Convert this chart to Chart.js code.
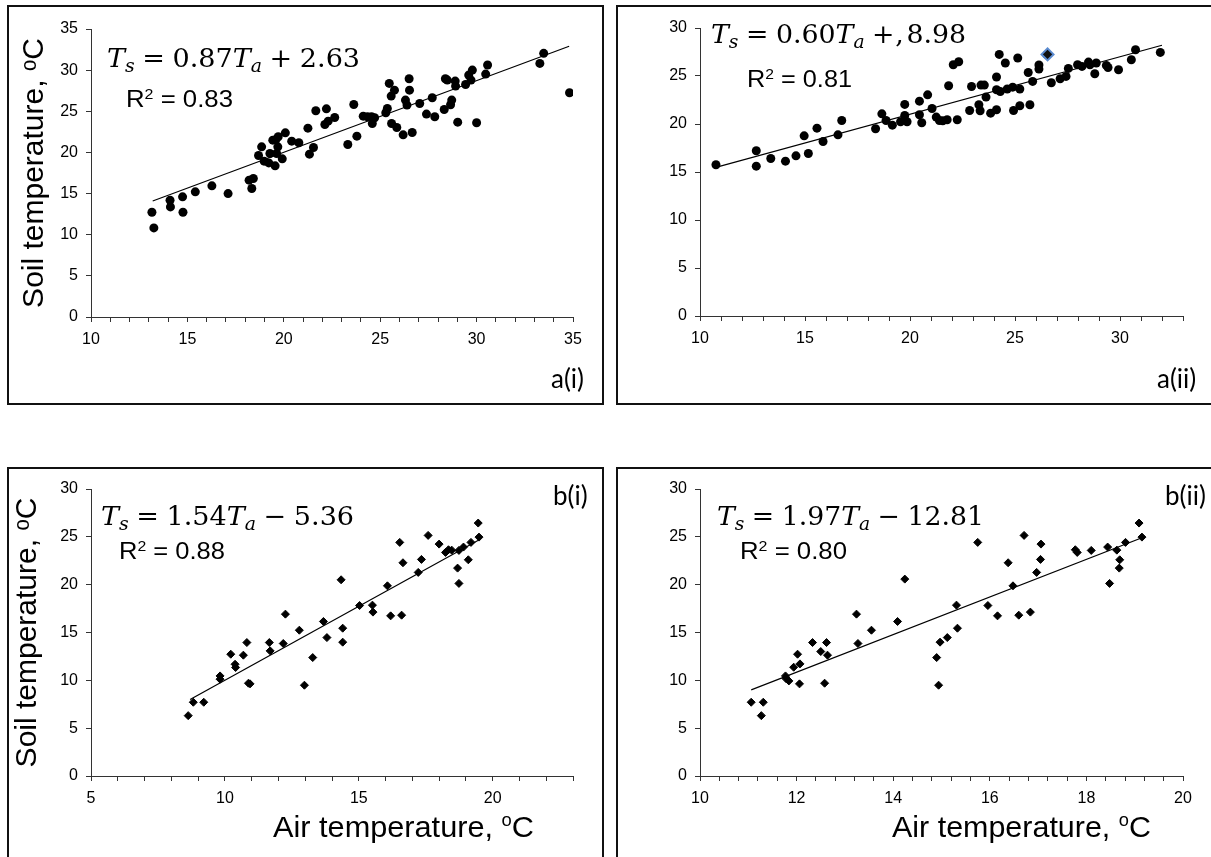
<!DOCTYPE html>
<html>
<head>
<meta charset="utf-8">
<title>Soil vs air temperature</title>
<script src="https://cdn.jsdelivr.net/npm/chart.js@4.4.0/dist/chart.umd.min.js"></script>
<style>
  html, body { margin: 0; padding: 0; background: #fff; width: 1211px; height: 857px; overflow: hidden; position: relative; }
  .frame { position: absolute; border: 2px solid #111; box-sizing: border-box; pointer-events: none; }
  canvas { position: absolute; }
  .txt { position: absolute; line-height: 1; white-space: nowrap; transform-origin: 0 0; color: #000; }
  .eq { font-family: 'DejaVu Serif', 'Liberation Serif', serif; font-size: 26px; }
  .eq sub { font-size: 0.7em; vertical-align: -0.3em; line-height: 0; }
  .eq .op { margin: 0 0.28em; }
  .eq .cm { margin: 0 0.1em 0 -0.25em; }
  .r2 { font-family: 'Liberation Sans', Arial, sans-serif; font-size: 23px; }
  .r2 sup { font-size: 0.62em; vertical-align: 0.55em; line-height: 0; }
  .tag { font-family: Lato, 'Open Sans', sans-serif; font-size: 26px; }
  .xt { font-family: 'Liberation Sans', Arial, sans-serif; font-size: 30px; }
  .xt sup { font-size: 0.6em; vertical-align: 0.62em; line-height: 0; }
</style>
</head>
<body>

<canvas id="chartA1" width="596" height="399" style="left:7px;top:5px"></canvas>
<canvas id="chartA2" width="595" height="399" style="left:616px;top:5px"></canvas>
<canvas id="chartB1" width="596" height="390" style="left:7px;top:467px"></canvas>
<canvas id="chartB2" width="595" height="390" style="left:616px;top:467px"></canvas>

<div class="frame" style="left:7px;top:5px;width:597px;height:400px"></div>
<div class="frame" style="left:616px;top:5px;width:600px;height:400px"></div>
<div class="frame" style="left:7px;top:467px;width:597px;height:400px"></div>
<div class="frame" style="left:616px;top:467px;width:600px;height:400px"></div>

<!-- regression equations -->
<div class="txt eq" data-w="253" style="left:107px;top:45px"><i>T</i><sub><i>s</i></sub><span class="op">=</span>0.87<i>T</i><sub><i>a</i></sub><span class="op">+</span>2.63</div>
<div class="txt eq" data-w="255" style="left:711px;top:21px"><i>T</i><sub><i>s</i></sub><span class="op">=</span>0.60<i>T</i><sub><i>a</i></sub><span class="op">+</span><span class="cm">,</span>8.98</div>
<div class="txt eq" data-w="253" style="left:101px;top:503px"><i>T</i><sub><i>s</i></sub><span class="op">=</span>1.54<i>T</i><sub><i>a</i></sub><span class="op">&minus;</span>5.36</div>
<div class="txt eq" data-w="267" style="left:717px;top:503px"><i>T</i><sub><i>s</i></sub><span class="op">=</span>1.97<i>T</i><sub><i>a</i></sub><span class="op">&minus;</span>12.81</div>

<div class="txt r2" data-w="107" style="left:126px;top:88px">R<sup>2</sup> = 0.83</div>
<div class="txt r2" data-w="105" style="left:747px;top:68px">R<sup>2</sup> = 0.81</div>
<div class="txt r2" data-w="106" style="left:119px;top:540px">R<sup>2</sup> = 0.88</div>
<div class="txt r2" data-w="107" style="left:740px;top:540px">R<sup>2</sup> = 0.80</div>

<!-- panel tags -->
<div class="txt tag" style="left:551px;top:365px">a(i)</div>
<div class="txt tag" style="left:1157px;top:365px">a(ii)</div>
<div class="txt tag" style="left:553px;top:482px">b(i)</div>
<div class="txt tag" style="left:1165px;top:482px">b(ii)</div>

<!-- x axis titles (bottom row only) -->
<div class="txt xt" data-w="261" style="left:273px;top:812px">Air temperature, <sup>o</sup>C</div>
<div class="txt xt" data-w="259" style="left:892px;top:812px">Air temperature, <sup>o</sup>C</div>

<script>
// a(i): all days, air vs soil temperature (deg C)
const a1Air  = [13.16, 13.26, 14.10, 14.12, 14.75, 14.77, 15.41, 16.27, 17.11, 18.20,
                18.42, 18.34, 18.69, 18.85, 18.98, 19.22, 19.28, 19.43, 19.55, 19.59,
                19.69, 19.71, 19.63, 19.92, 20.08, 20.41, 20.78, 21.25, 21.33, 21.54,
                21.66, 22.21, 22.13, 22.30, 22.64, 23.32, 23.63, 23.79, 24.12, 24.34,
                24.55, 24.59, 24.71, 25.29, 25.37, 25.47, 25.57, 25.59, 25.74, 25.86,
                26.19, 26.31, 26.39, 26.50, 26.52, 26.66, 27.05, 27.40, 27.70, 27.83,
                28.32, 28.38, 28.48, 28.65, 28.71, 28.89, 28.91, 29.02, 29.43, 29.59,
                29.71, 29.78, 30.00, 30.47, 30.57, 33.28, 33.48, 34.82];
const a1Soil = [12.73, 10.83, 14.19, 13.38, 14.60, 12.73, 15.21, 15.94, 15.00, 16.63,
                16.83, 15.61, 19.63, 20.68, 18.94, 18.73, 19.87, 21.49, 18.37, 21.57,
                20.68, 21.90, 19.87, 19.22, 22.38, 21.37, 21.17, 22.95, 19.79, 20.60,
                25.06, 25.30, 23.40, 23.80, 24.25, 20.97, 25.83, 21.98, 24.41, 24.33,
                24.33, 23.52, 24.21, 24.82, 25.34, 28.39, 26.85, 23.52, 27.57, 23.03,
                22.14, 26.36, 25.75, 28.95, 27.57, 22.42, 25.95, 24.66, 26.64, 24.33,
                25.22, 28.95, 28.79, 25.79, 26.36, 28.67, 28.06, 23.68, 28.26, 29.40,
                28.79, 30.01, 23.60, 29.52, 30.62, 30.82, 32.04, 27.25];
const a1TrendAir  = [13.2, 34.8];
const a1TrendSoil = [14.1, 32.9];

// a(ii)
const a2Air  = [10.76, 12.68, 12.68, 13.37, 14.07, 14.57, 14.96, 15.16, 15.57, 15.86,
                16.57, 16.75, 18.36, 18.66, 18.86, 19.16, 19.55, 19.75, 19.75, 19.86,
                20.45, 20.45, 20.56, 20.84, 21.05, 21.25, 21.40, 21.56, 21.77, 21.84,
                22.06, 22.32, 22.25, 22.84, 22.93, 23.28, 23.34, 23.38, 23.54, 23.62,
                23.84, 24.12, 24.12, 24.12, 24.25, 24.30, 24.54, 24.63, 24.89, 24.93,
                25.13, 25.23, 25.23, 25.63, 25.71, 25.84, 26.14, 26.14, 26.52, 26.73,
                27.15, 27.43, 27.54, 27.98, 28.19, 28.50, 28.57, 28.80, 28.87, 29.35,
                29.43, 29.93, 30.54, 30.74, 31.92];
const a2Soil = [15.75, 17.21, 15.61, 16.41, 16.13, 16.68, 18.77, 16.93, 19.57, 18.18,
                18.87, 20.37, 19.50, 21.06, 20.37, 19.88, 20.23, 22.04, 20.89, 20.23,
                22.38, 20.96, 20.13, 23.04, 21.62, 20.72, 20.37, 20.33, 20.44, 23.98,
                26.17, 26.49, 20.44, 21.41, 23.91, 22.00, 21.38, 24.05, 24.05, 22.80,
                21.13, 21.48, 24.89, 23.57, 27.25, 23.39, 26.35, 23.64, 23.84, 21.41,
                26.87, 21.90, 23.64, 25.37, 22.00, 24.44, 25.72, 26.14, 27.22, 24.30,
                24.71, 24.96, 25.79, 26.17, 26.00, 26.45, 26.17, 25.23, 26.35, 26.10,
                25.89, 25.65, 26.69, 27.74, 27.46];
const a2MarkAir  = [26.55];   // the selected (blue) point
const a2MarkSoil = [27.25];
const a2TrendAir  = [10.8, 32.0];
const a2TrendSoil = [15.5, 28.2];

// b(i)
const b1Air  = [8.63, 8.82, 9.21, 9.82, 9.82, 10.22, 10.38, 10.40, 10.69, 10.82,
                10.88, 10.94, 11.66, 11.69, 12.18, 12.26, 12.78, 12.97, 13.28, 13.68,
                13.81, 14.34, 14.40, 14.40, 15.03, 15.51, 15.53, 16.07, 16.19, 16.53,
                16.60, 16.65, 17.22, 17.34, 17.59, 18.00, 18.24, 18.35, 18.47, 18.69,
                18.74, 18.74, 18.91, 19.09, 19.19, 19.46, 19.49];
const b1Soil = [6.31, 7.71, 7.71, 10.12, 10.46, 12.73, 11.68, 11.34, 12.63, 13.95,
                9.70, 9.63, 13.95, 13.08, 13.85, 16.92, 15.24, 9.49, 12.38, 16.15,
                14.47, 20.51, 15.45, 13.99, 17.82, 17.86, 17.13, 19.88, 16.74, 24.42,
                16.81, 22.29, 21.28, 22.64, 25.15, 24.24, 23.37, 23.65, 23.61, 21.73,
                20.13, 23.58, 23.93, 22.60, 24.42, 26.44, 24.97];
const b1TrendAir  = [8.7, 19.5];
const b1TrendSoil = [8.0, 24.7];

// b(ii)
const b2Air  = [11.06, 11.31, 11.27, 11.77, 11.78, 11.84, 11.94, 12.02, 12.07, 12.06,
                12.33, 12.50, 12.58, 12.62, 12.64, 13.24, 13.27, 13.55, 14.09, 14.24,
                14.90, 14.94, 14.97, 15.12, 15.31, 15.33, 15.75, 15.96, 16.16, 16.38,
                16.48, 16.60, 16.71, 16.84, 16.97, 17.05, 17.06, 17.77, 17.81, 18.10,
                18.44, 18.48, 18.63, 18.68, 18.69, 18.81, 19.09, 19.15];
const b2Soil = [7.71, 7.71, 6.31, 10.46, 10.18, 9.94, 11.37, 12.73, 11.72, 9.63,
                13.95, 13.01, 9.70, 13.95, 12.63, 16.92, 13.85, 15.24, 16.15, 20.58,
                12.38, 9.49, 13.99, 14.47, 17.86, 15.45, 24.42, 17.82, 16.74, 22.29,
                19.88, 16.81, 25.15, 17.13, 21.28, 22.64, 24.24, 23.65, 23.37, 23.58,
                23.93, 20.13, 23.61, 21.73, 22.60, 24.42, 26.44, 24.97];
const b2TrendAir  = [11.06, 19.15];
const b2TrendSoil = [9.0, 24.9];

const SOIL_TITLE = 'Soil temperature, \u1D52C';

Chart.defaults.font.family = "'Liberation Sans', Arial, 'DejaVu Sans', sans-serif";
Chart.defaults.color = '#000';

const Panels = {
  init() {
    // area: chart area offsets inside each canvas (left = y axis width, bottom = x axis height)
    this.build('chartA1', {
      sets: [this.points(a1Air, a1Soil, 'circle'), this.trend(a1TrendAir, a1TrendSoil)],
      x: { min: 10, max: 35, step: 1, major: 5 },
      y: { min: 0, max: 35 },
      area: { l: 84, t: 24, r: 30, b: 87 },
      yTitle: 13
    });
    this.build('chartA2', {
      sets: [this.marked(a2MarkAir, a2MarkSoil), this.points(a2Air, a2Soil, 'circle'), this.trend(a2TrendAir, a2TrendSoil)],
      x: { min: 10, max: 33, step: 1, major: 5 },
      y: { min: 0, max: 30 },
      area: { l: 84, t: 23, r: 28, b: 88 },
      yTitle: null
    });
    this.build('chartB1', {
      sets: [this.points(b1Air, b1Soil, 'rectRot'), this.trend(b1TrendAir, b1TrendSoil)],
      x: { min: 5, max: 23, step: 1, major: 5 },
      y: { min: 0, max: 30 },
      area: { l: 84, t: 22, r: 30, b: 81 },
      yTitle: 6
    });
    this.build('chartB2', {
      sets: [this.points(b2Air, b2Soil, 'rectRot'), this.trend(b2TrendAir, b2TrendSoil)],
      x: { min: 10, max: 20, step: 0.4, major: 2 },
      y: { min: 0, max: 30 },
      area: { l: 84, t: 22, r: 28, b: 81 },
      yTitle: null
    });
    document.fonts.ready.then(() => this.fitText());
  },

  pairs(xs, ys) {
    return xs.map((x, i) => ({ x, y: ys[i] }));
  },

  points(xs, ys, style) {
    const round = style === 'circle';
    return {
      data: this.pairs(xs, ys),
      showLine: false,
      pointStyle: style,
      pointRadius: round ? 4.5 : 4,
      pointBackgroundColor: '#000',
      pointBorderColor: '#000',
      pointBorderWidth: round ? 0 : 1
    };
  },

  marked(xs, ys) {
    return {
      data: this.pairs(xs, ys),
      showLine: false,
      pointStyle: 'rectRot',
      pointRadius: 6,
      pointBackgroundColor: '#111',
      pointBorderColor: '#5b8bd0',
      pointBorderWidth: 2
    };
  },

  trend(xs, ys) {
    return {
      data: this.pairs(xs, ys),
      showLine: true,
      pointRadius: 0,
      borderColor: '#000',
      borderWidth: 1.2,
      fill: false
    };
  },

  axisGrid() {
    return { drawOnChartArea: false, drawTicks: true, tickLength: 5, color: '#333', lineWidth: 1 };
  },

  build(id, cfg) {
    const { x, y, area } = cfg;
    const isMajor = v => Math.abs(v / x.major - Math.round(v / x.major)) < 1e-6;

    new Chart(document.getElementById(id), {
      type: 'scatter',
      data: { datasets: cfg.sets },
      options: {
        responsive: false,
        animation: false,
        layout: { padding: { top: area.t, right: area.r, left: 0, bottom: 0 } },
        plugins: { legend: { display: false }, tooltip: { enabled: false } },
        scales: {
          x: {
            type: 'linear',
            min: x.min,
            max: x.max,
            afterFit: s => { s.height = area.b; },
            grid: this.axisGrid(),
            border: { color: '#333', width: 1 },
            ticks: {
              stepSize: x.step,
              autoSkip: false,
              maxRotation: 0,
              padding: 8,
              font: { size: 16 },
              callback: v => isMajor(v) ? String(Math.round(v)) : ''
            }
          },
          y: {
            type: 'linear',
            min: y.min,
            max: y.max,
            afterFit: s => { s.width = area.l; },
            grid: this.axisGrid(),
            border: { color: '#333', width: 1 },
            ticks: { stepSize: 5, padding: 8, font: { size: 16 } },
            title: {
              display: cfg.yTitle !== null,
              text: SOIL_TITLE,
              font: { size: 30, lineHeight: 1 },
              padding: { top: cfg.yTitle || 0, bottom: 0 }
            }
          }
        }
      }
    });
  },

  // stretch overlay labels to the widths they take in the figure
  fitText() {
    document.querySelectorAll('[data-w]').forEach(el => {
      const w = el.getBoundingClientRect().width;
      if (w > 0) el.style.transform = `scaleX(${(+el.dataset.w / w).toFixed(3)})`;
    });
  }
};

Panels.init();
</script>
</body>
</html>
